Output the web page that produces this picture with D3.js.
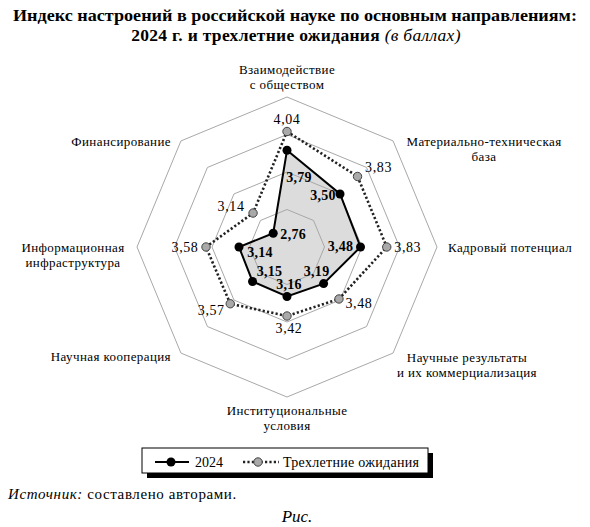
<!DOCTYPE html>
<html>
<head>
<meta charset="utf-8">
<script src="https://cdn.jsdelivr.net/npm/d3@7"></script>
<style>
  body { margin: 0; background: #fff; }
</style>
</head>
<body>
<script>
// chart data
var axes = [
  ["Взаимодействие", "с обществом"],
  ["Материально-техническая", "база"],
  ["Кадровый потенциал"],
  ["Научные результаты", "и их коммерциализация"],
  ["Институциональные", "условия"],
  ["Научная кооперация"],
  ["Информационная", "инфраструктура"],
  ["Финансирование"]
];
var values2024 = [3.79, 3.50, 3.48, 3.19, 3.16, 3.15, 3.14, 2.76];
var valuesExpect = [4.04, 3.83, 3.83, 3.48, 3.42, 3.57, 3.58, 3.14];
var gridLevels = [3.0, 3.5, 4.0, 4.5];
var seriesNames = ["2024", "Трехлетние ожидания"];

// layout
var width = 590, height = 527;
var cx = 287, cy = 247, radius = 150;
var serif = "'Liberation Serif', 'DejaVu Serif', 'Times New Roman', serif";

// label offsets from the marker, per axis
var off2024 = [[12, 27], [-17, 1], [-20, -1], [-7, -13], [2, -13], [17, -10], [21, 5], [20, 1]];
var offExpect = [[0, -13], [21, -9], [21, 0], [20, 4], [2, 12], [-19, 6], [-21, 0], [-22, -7]];

// axis label placement: [x, y of first line, anchor]
var axisLabelPos = [
  [287, 74, "middle"], [484, 146, "middle"], [448, 252, "start"], [467, 362, "middle"],
  [287, 415, "middle"], [171, 361, "end"], [73, 252, "middle"], [171, 146, "end"]
];

var svg = d3.select("body").append("svg")
  .attr("width", width)
  .attr("height", height)
  .attr("font-family", serif)
  .style("font-family", serif);

var rScale = d3.scaleLinear().domain([2.5, 4.5]).range([0, radius]);
var angle = d3.scaleLinear().domain([0, axes.length]).range([0, 2 * Math.PI]);

function px(i, v) { return cx + rScale(v) * Math.sin(angle(i)); }
function py(i, v) { return cy - rScale(v) * Math.cos(angle(i)); }

var radar = d3.lineRadial()
  .angle(function(d, i) { return angle(i); })
  .radius(function(d) { return rScale(d); })
  .curve(d3.curveLinearClosed);

var g = svg.append("g").attr("transform", "translate(" + cx + "," + cy + ")");

// title
svg.append("text")
  .attr("x", 295).attr("y", 21)
  .attr("text-anchor", "middle")
  .attr("font-size", "17px")
  .attr("font-weight", "bold")
  .attr("textLength", 564)
  .attr("lengthAdjust", "spacingAndGlyphs")
  .text("Индекс настроений в российской науке по основным направлениям:");

var title2 = svg.append("text")
  .attr("x", 296).attr("y", 41)
  .attr("text-anchor", "middle")
  .attr("font-size", "17.5px")
  .attr("letter-spacing", "0.3px");
title2.append("tspan").attr("font-weight", "bold").text("2024 г. и трехлетние ожидания ");
title2.append("tspan").attr("font-style", "italic").text("(в баллах)");

// 2024 fill
g.append("path")
  .datum(values2024)
  .attr("d", radar)
  .attr("fill", "#dcdcdc")
  .attr("stroke", "none");

// grid octagons
g.selectAll(".grid")
  .data(gridLevels)
  .enter().append("path")
  .attr("class", "grid")
  .attr("d", function(lv) { return radar(axes.map(function() { return lv; })); })
  .attr("fill", "none")
  .attr("stroke", "#a8a8a8")
  .attr("stroke-width", 1);

// expectations dotted line
g.append("path")
  .datum(valuesExpect)
  .attr("d", radar)
  .attr("fill", "none")
  .attr("stroke", "#222")
  .attr("stroke-width", 2.6)
  .attr("stroke-dasharray", "2.2,2.2");

// 2024 line
g.append("path")
  .datum(values2024)
  .attr("d", radar)
  .attr("fill", "none")
  .attr("stroke", "#000")
  .attr("stroke-width", 2);

// markers
svg.selectAll(".mExp")
  .data(valuesExpect)
  .enter().append("circle")
  .attr("cx", function(d, i) { return px(i, d); })
  .attr("cy", function(d, i) { return py(i, d); })
  .attr("r", 4.2)
  .attr("fill", "#a9a9a9")
  .attr("stroke", "#444")
  .attr("stroke-width", 1);

svg.selectAll(".m2024")
  .data(values2024)
  .enter().append("circle")
  .attr("cx", function(d, i) { return px(i, d); })
  .attr("cy", function(d, i) { return py(i, d); })
  .attr("r", 4.5)
  .attr("fill", "#000");

var fmt = function(v) { return v.toFixed(2).replace(".", ","); };

// value labels
svg.selectAll(".lExp")
  .data(valuesExpect)
  .enter().append("text")
  .attr("x", function(d, i) { return px(i, d) + offExpect[i][0]; })
  .attr("y", function(d, i) { return py(i, d) + offExpect[i][1] + 5; })
  .attr("text-anchor", "middle")
  .attr("font-size", "14px")
  .attr("letter-spacing", "0.6px")
  .text(fmt);

svg.selectAll(".l2024")
  .data(values2024)
  .enter().append("text")
  .attr("x", function(d, i) { return px(i, d) + off2024[i][0]; })
  .attr("y", function(d, i) { return py(i, d) + off2024[i][1] + 5; })
  .attr("text-anchor", "middle")
  .attr("font-size", "14px")
  .attr("font-weight", "bold")
  .attr("letter-spacing", "0.3px")
  .text(fmt);

// axis labels
axes.forEach(function(lines, i) {
  var p = axisLabelPos[i];
  var t = svg.append("text")
    .attr("x", p[0]).attr("y", p[1])
    .attr("text-anchor", p[2])
    .attr("font-size", "13px")
    .attr("letter-spacing", "0.4px");
  lines.forEach(function(s, k) {
    t.append("tspan").attr("x", p[0]).attr("dy", k === 0 ? 0 : 15).text(s);
  });
});

// legend
var lg = svg.append("g").attr("transform", "translate(142,448)");
lg.append("rect").attr("x", 5).attr("y", 5).attr("width", 286).attr("height", 25).attr("fill", "#000");
lg.append("rect").attr("width", 286).attr("height", 25).attr("fill", "#fff").attr("stroke", "#000");
lg.append("line").attr("x1", 13).attr("x2", 47).attr("y1", 14).attr("y2", 14)
  .attr("stroke", "#000").attr("stroke-width", 2);
lg.append("circle").attr("cx", 29).attr("cy", 14).attr("r", 4.5).attr("fill", "#000");
lg.append("text").attr("x", 53).attr("y", 18.5).attr("font-size", "14px").text(seriesNames[0]);
lg.append("line").attr("x1", 101).attr("x2", 137).attr("y1", 14).attr("y2", 14)
  .attr("stroke", "#222").attr("stroke-width", 2.6).attr("stroke-dasharray", "2.2,2.2");
lg.append("circle").attr("cx", 116).attr("cy", 14).attr("r", 4.2)
  .attr("fill", "#a9a9a9").attr("stroke", "#444");
lg.append("text").attr("x", 141).attr("y", 18.5).attr("font-size", "14px")
  .attr("letter-spacing", "0.3px").text(seriesNames[1]);

// source and caption
var src = svg.append("text").attr("x", 8).attr("y", 499)
  .attr("font-size", "15px")
  .attr("letter-spacing", "0.6px");
src.append("tspan").attr("font-style", "italic").text("Источник: ");
src.append("tspan").text("составлено авторами.");

svg.append("text").attr("x", 297).attr("y", 522)
  .attr("text-anchor", "middle")
  .attr("font-size", "17px")
  .attr("font-style", "italic")
  .text("Рис.");
</script>
</body>
</html>
